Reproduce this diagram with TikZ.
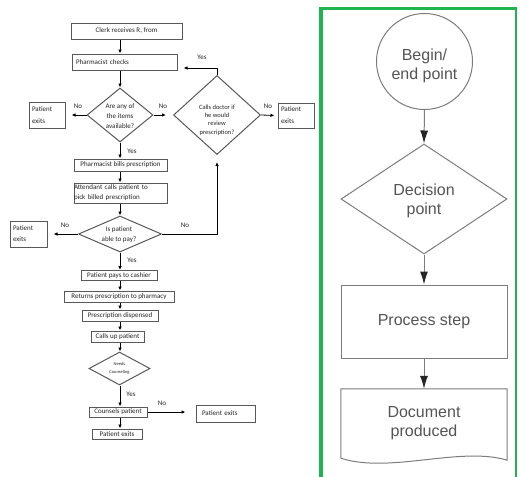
\documentclass[tikz,border=0pt]{standalone}
\usepackage{fontspec}
\newfontfamily\calib{Carlito}
\newfontfamily\arial{Liberation Sans}
\usetikzlibrary{shapes.geometric,arrows.meta}
\definecolor{grn}{RGB}{30,180,80}
\definecolor{txtg}{RGB}{85,85,85}
\definecolor{lng}{RGB}{125,125,125}
\begin{document}
\begin{tikzpicture}[x=1pt,y=-1pt,
  lbox/.style={draw=black!65, line width=1pt, rectangle, inner sep=0pt,
    font=\calib\fontsize{7}{9.5}\selectfont, text=black!85},
  ldia/.style={draw=black!65, line width=1pt, diamond, inner sep=0pt},
  ltxt/.style={inner sep=0pt, align=center, text=black!85, font=\calib\fontsize{7}{10}\selectfont},
  lbl/.style={inner sep=0pt, text=black!85, font=\calib\fontsize{7}{9}\selectfont},
  arr/.style={-{Latex[length=4pt,width=3.5pt]}, line width=0.8pt, black},
  rline/.style={draw=lng, line width=1pt},
  rtxt/.style={inner sep=0pt, align=center, text=txtg, font=\arial\fontsize{16}{19}\selectfont},
  rarr/.style={draw=lng, line width=1pt, -{Latex[length=13pt,width=8pt,color=black!85]}}
]
\useasboundingbox (0,0) rectangle (520,477);
\fill[white] (0,0) rectangle (520,477);
\coordinate (ax) at (120,0);

% ---------- left flowchart ----------
\node[lbox, minimum width=111pt, minimum height=16pt] (clerk) at (126.5,31) {Clerk receives R, from};
\node[lbox, minimum width=105pt, minimum height=16pt, text width=97pt, align=left] (pc) at (124.5,62) {Pharmacist checks};
\node[ldia, minimum width=66pt, minimum height=54pt] (d1) at (120,115) {};
\node[ltxt] (d1t) at (120,116) {Are any of\\the items\\available?};
\node[lbox, minimum width=36pt, minimum height=26pt, text width=30pt, align=left, font=\calib\fontsize{7}{12}\selectfont] (pe1) at (47,115) {Patient\\exits};
\node[ldia, minimum width=87pt, minimum height=79pt] (d2) at (217,115) {};
\node[ltxt, font=\calib\fontsize{6.5}{8.4}\selectfont] (d2t) at (217,120) {Calls doctor if\\he would\\review\\prescription?};
\node[lbox, minimum width=36pt, minimum height=25pt, text width=30pt, align=left, font=\calib\fontsize{7}{12}\selectfont] (pe2) at (296,115.5) {Patient\\exits};
\node[lbox, minimum width=93pt, minimum height=12pt] (bills) at (120.5,165) {Pharmacist bills prescription};
\node[lbox, minimum width=93pt, minimum height=20pt, text width=93pt, align=left, font=\calib\fontsize{7}{10}\selectfont] (att) at (120.5,193) {Attendant calls patient to\\pick billed prescription};
\node[ldia, minimum width=83pt, minimum height=36pt] (d3) at (120,234) {};
\node[ltxt] (d3t) at (119,235) {Is patient\\able to pay?};
\node[lbox, minimum width=37pt, minimum height=26pt, text width=31pt, align=left, font=\calib\fontsize{7}{11}\selectfont] (pe3) at (28.5,234) {Patient\\exits};
\node[lbox, minimum width=76pt, minimum height=10pt] (pays) at (119,275.5) {Patient pays to cashier};
\node[lbox, minimum width=110pt, minimum height=11pt] (ret) at (119,296.5) {Returns prescription to pharmacy};
\node[lbox, minimum width=76pt, minimum height=11pt] (disp) at (120,315.5) {Prescription dispensed};
\node[lbox, minimum width=53pt, minimum height=11pt] (cup) at (117.5,336.5) {Calls up patient};
\node[ldia, minimum width=61pt, minimum height=33pt] (d4) at (119.5,368.5) {};
\node[ltxt, font=\calib\fontsize{4.5}{8.5}\selectfont] (d4t) at (119.5,368.5) {Needs\\Counseling};
\node[lbox, minimum width=58pt, minimum height=10pt] (couns) at (118,412) {Counsels patient};
\node[lbox, minimum width=59pt, minimum height=17pt, text width=47pt, align=left] (pe4) at (225.5,413.5) {Patient exits};
\node[lbox, minimum width=50pt, minimum height=10pt] (pe5) at (117,434) {Patient exits};

\draw[arr] (clerk.south -| ax) -- (pc.north -| ax);
\draw[arr] (pc.south -| ax) -- (d1.north);
\draw[arr, shorten >=6pt] (d1.west) -- (pe1.east);
\draw[arr, shorten >=7pt] (d1.east) -- (d2.west);
\draw[arr, shorten >=3pt] (d2.east) -- (pe2.west);
\draw[arr, shorten >=6pt] (d2.north) |- ([yshift=-6pt]pc.east);
\draw[arr] (d1.south) -- (bills.north -| ax);
\draw[arr] (bills.south -| ax) -- (att.north -| ax);
\draw[arr] (att.south -| ax) -- (d3.north);
\draw[arr, shorten >=6pt] (d3.west) -- (pe3.east);
\draw[arr, shorten >=7pt] (d3.east) -| (d2.south);
\draw[arr] (d3.south) -- (pays.north -| ax);
\draw[arr] (pays.south -| ax) -- (ret.north -| ax);
\draw[arr] (ret.south -| ax) -- (disp.north -| ax);
\draw[arr] (disp.south -| ax) -- (cup.north -| ax);
\draw[arr] (cup.south -| ax) -- (d4.north -| ax);
\draw[arr] (d4.south -| ax) -- (couns.north -| ax);
\draw[arr, shorten >=10pt] (couns.east) -- (couns.east -| pe4.west);
\draw[arr] (couns.south -| ax) -- (pe5.north -| ax);

\node[lbl] (l1) at (78,106) {No};
\node[lbl] (l2) at (163,106) {No};
\node[lbl] (l3) at (268,106) {No};
\node[lbl] (l4) at (202,57) {Yes};
\node[lbl] (l5) at (132,151) {Yes};
\node[lbl] (l6) at (65,225) {No};
\node[lbl] (l7) at (185,225) {No};
\node[lbl] (l8) at (132,260) {Yes};
\node[lbl] (l9) at (131,394) {Yes};
\node[lbl] (l10) at (162,403) {No};

% ---------- right legend ----------
\draw[grn, line width=4pt] (321,477) -- (321,8.5);
\draw[grn, line width=3pt] (319,8.5) -- (517,8.5);
\draw[grn, line width=2pt] (516,8.5) -- (516,477);

\node[rline, circle, minimum size=96pt, inner sep=0pt] (beg) at (424.5,61.5) {};
\node[rtxt] (begt) at (424.5,65.5) {Begin/\\end point};
\node[rline, diamond, minimum width=166pt, minimum height=110pt, inner sep=0pt] (dec) at (424,199) {};
\node[rtxt] (dect) at (424,201) {Decision\\point};
\node[rline, rectangle, minimum width=166pt, minimum height=73pt, inner sep=0pt] (proc) at (424,321.5) {};
\node[rtxt] (proct) at (424,321.5) {Process step};
\node[minimum width=166pt, minimum height=69pt, inner sep=0pt] (doc) at (424,423.5) {};
\draw[rline] (doc.south west) -- (doc.north west) -- (doc.north east) -- ([yshift=-2pt]doc.south east)
  .. controls (460,446) and (390,474) .. (doc.south west);
\node[rtxt] (doct) at (424,423.5) {Document\\produced};

\draw[rarr] (beg.south) -- (dec.north);
\draw[rarr] (dec.south) -- (proc.north);
\draw[rarr] (proc.south) -- (doc.north);
\end{tikzpicture}
\end{document}
